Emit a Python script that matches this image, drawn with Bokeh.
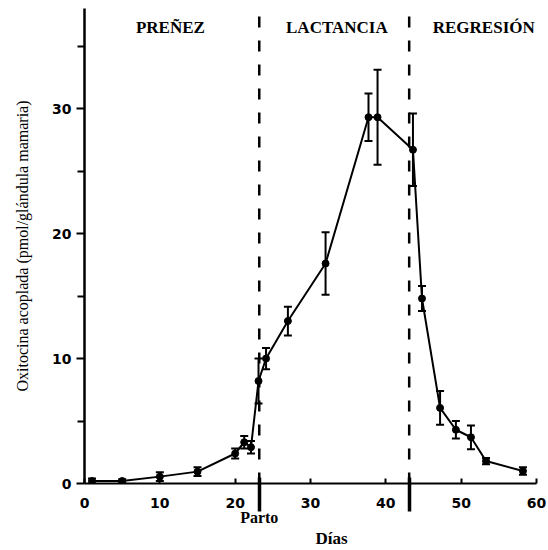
from bokeh.plotting import figure
from bokeh.models import (ColumnDataSource, Whisker, TeeHead, Range1d, FixedTicker,
                          LinearAxis)
from bokeh.embed import file_html
from bokeh.resources import INLINE
from bokeh.core.properties import value

# ---- data ----
days = [1, 5, 10, 15, 20, 21.2, 22.1, 23.1, 24.1, 27.0, 32.0, 37.7, 38.9,
        43.6, 44.8, 47.2, 49.3, 51.3, 53.3, 58.2]
oxytocin = [0.2, 0.2, 0.55, 0.95, 2.4, 3.3, 2.9, 8.2, 10.0, 13.0, 17.6, 29.3, 29.3,
            26.7, 14.8, 6.05, 4.3, 3.7, 1.8, 1.0]
sem = [0.2, 0.15, 0.35, 0.35, 0.4, 0.5, 0.5, 1.8, 0.85, 1.15, 2.5, 1.9, 3.8,
       2.9, 1.0, 1.35, 0.7, 0.95, 0.25, 0.3]

parto_day = 23.2
regresion_day = 43.1
phase_names = ["PREÑEZ", "LACTANCIA", "REGRESIÓN"]
phase_centers = [11.4, 33.5, 53.0]

x_ticks = [0, 10, 20, 30, 40, 50, 60]
y_ticks = [0, 10, 20, 30]
y_minor_ticks = [5, 15, 25, 35]
dias_center = 32.8

serif = "Liberation Serif"
sans = "DejaVu Sans"

src = ColumnDataSource(dict(
    x=days, y=oxytocin,
    upper=[v + e for v, e in zip(oxytocin, sem)],
    lower=[v - e for v, e in zip(oxytocin, sem)],
))

p = figure(width=548, height=550, output_backend="svg", toolbar_location=None,
           x_range=Range1d(0, 60), y_range=Range1d(0, 38),
           min_border_left=84, min_border_right=12, min_border_top=8,
           min_border_bottom=67)
p.outline_line_color = None
p.xgrid.visible = False
p.ygrid.visible = False
p.background_fill_color = "white"
p.border_fill_color = "white"

# main x axis; the phase boundaries continue through it as long minor ticks
p.xaxis.ticker = FixedTicker(ticks=x_ticks, minor_ticks=[parto_day, regresion_day])
p.xaxis.axis_line_width = 2
p.xaxis.axis_line_color = "black"
p.xaxis.major_tick_in = 5
p.xaxis.major_tick_out = 0
p.xaxis.major_tick_line_width = 2
p.xaxis.minor_tick_in = 6
p.xaxis.minor_tick_out = 28
p.xaxis.minor_tick_line_width = 3.5
p.xaxis.minor_tick_line_color = "black"
p.xaxis.major_label_text_font = sans
p.xaxis.major_label_text_font_style = "bold"
p.xaxis.major_label_text_font_size = "14px"
p.xaxis.major_label_text_color = "black"
p.xaxis.major_label_standoff = -14

# "Parto" as a label axis beneath
parto_axis = LinearAxis(ticker=FixedTicker(ticks=[parto_day]),
                        major_label_overrides={parto_day: "Parto"},
                        axis_line_color=None, major_tick_line_color=None,
                        minor_tick_line_color=None,
                        major_tick_in=0, major_tick_out=0,
                        minor_tick_in=0, minor_tick_out=0,
                        major_label_text_font=serif,
                        major_label_text_font_style="bold",
                        major_label_text_font_size="16px",
                        major_label_text_color="black",
                        major_label_standoff=-2)
p.add_layout(parto_axis, "below")

# "Días" as a label axis beneath
dias_axis = LinearAxis(ticker=FixedTicker(ticks=[dias_center]),
                       major_label_overrides={dias_center: "Días"},
                       axis_line_color=None, major_tick_line_color=None,
                       minor_tick_line_color=None,
                       major_tick_in=0, major_tick_out=0,
                       minor_tick_in=0, minor_tick_out=0,
                       major_label_text_font=serif,
                       major_label_text_font_style="bold",
                       major_label_text_font_size="17px",
                       major_label_text_color="black",
                       major_label_standoff=0)
p.add_layout(dias_axis, "below")

p.yaxis.ticker = FixedTicker(ticks=y_ticks, minor_ticks=y_minor_ticks)
p.yaxis.axis_line_width = 2.5
p.yaxis.axis_line_color = "black"
p.yaxis.major_tick_in = 0
p.yaxis.major_tick_out = 8
p.yaxis.minor_tick_in = 0
p.yaxis.minor_tick_out = 7
p.yaxis.major_tick_line_width = 2
p.yaxis.minor_tick_line_width = 2
p.yaxis.minor_tick_line_color = "black"
p.yaxis.major_label_text_font = sans
p.yaxis.major_label_text_font_style = "bold"
p.yaxis.major_label_text_font_size = "14px"
p.yaxis.major_label_text_color = "black"
p.yaxis.major_label_standoff = 5
p.yaxis.axis_label = "Oxitocina acoplada (pmol/glándula mamaria)"
p.yaxis.axis_label_text_font = serif
p.yaxis.axis_label_text_font_style = "normal"
p.yaxis.axis_label_text_font_size = "16px"
p.yaxis.axis_label_text_color = "black"
p.yaxis.axis_label_standoff = 18

# phase boundaries (dashed)
p.segment(x0=[parto_day, regresion_day], y0=[0, 0],
          x1=[parto_day, regresion_day], y1=[37.5, 37.5],
          line_color="black", line_width=2.5, line_dash="11 13")

# data line, error bars, points
p.line("x", "y", source=src, line_color="black", line_width=2)
p.add_layout(Whisker(base="x", upper="upper", lower="lower", source=src,
                     line_color="black", line_width=2,
                     upper_head=TeeHead(size=8, line_width=2, line_color="black"),
                     lower_head=TeeHead(size=8, line_width=2, line_color="black")))
p.scatter("x", "y", source=src, size=7, marker="circle", fill_color="black",
          line_color="black")

# phase titles
p.text(x=phase_centers, y=[36.5] * 3, text=phase_names, text_font=value(serif),
       text_font_style="bold", text_font_size="17px", text_align="center",
       text_baseline="alphabetic", text_color="black")

open("out.html", "w").write(file_html(p, INLINE))
